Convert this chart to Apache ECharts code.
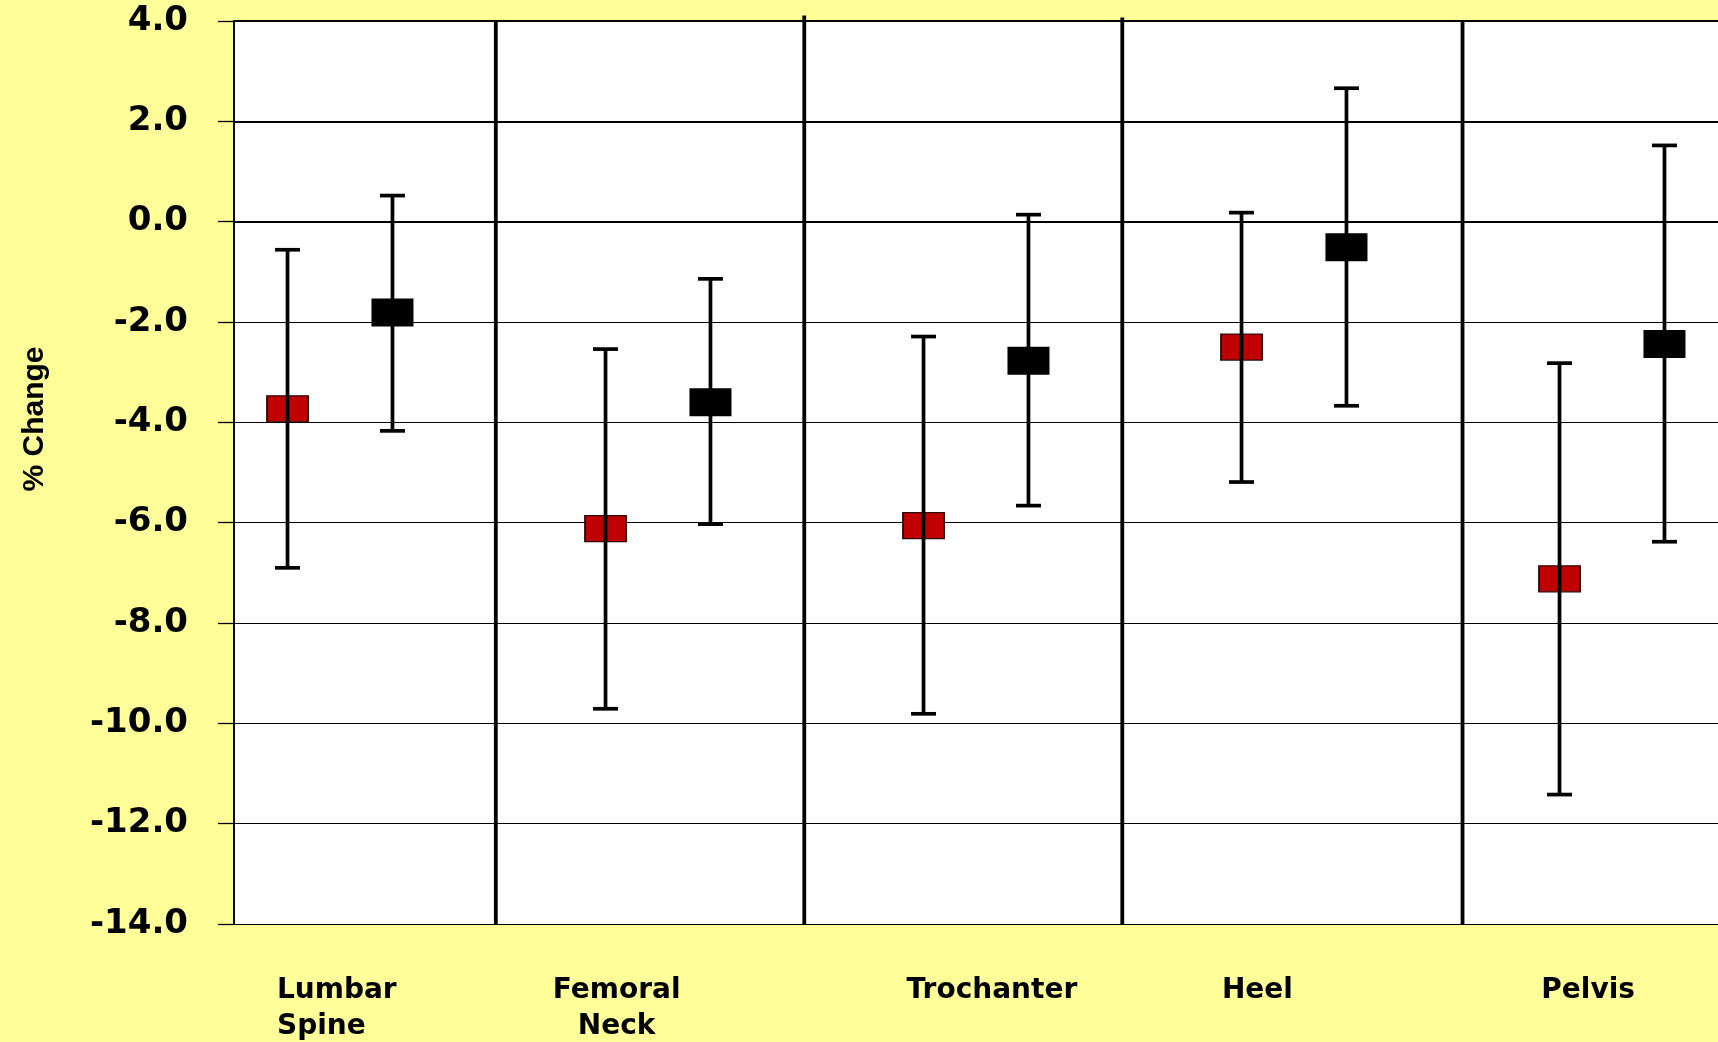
<!DOCTYPE html>
<html>
<head>
<meta charset="utf-8">
<script src="https://cdn.jsdelivr.net/npm/echarts@6/dist/echarts.min.js"></script>
<style>
  html, body { margin: 0; padding: 0; background: #FFFF99; }
  #chart { width: 1718px; height: 1042px; }
</style>
</head>
<body>
<div id="chart"></div>
<script>
// Skeletal sites along the x axis
const sites = ['Lumbar\nSpine', 'Femoral\nNeck', 'Trochanter', 'Heel', 'Pelvis'];

// Red group: mean % change with lower / upper interval limits
const redMean = [-3.73, -6.12, -6.06, -2.50, -7.12];
const redLow  = [-6.90, -9.71, -9.81, -5.19, -11.42];
const redHigh = [-0.56, -2.54, -2.29, 0.18, -2.82];

// Black group: mean % change with lower / upper interval limits
const blackMean = [-1.81, -3.60, -2.77, -0.51, -2.44];
const blackLow  = [-4.17, -6.03, -5.66, -3.67, -6.38];
const blackHigh = [0.52, -1.14, 0.14, 2.66, 1.52];

// Y axis ticks (% change)
const yTicks = [-14, -12, -10, -8, -6, -4, -2, 0, 2, 4];

// Vertical separators between sites (x in site units) and their top ends
const dividerX = [0.49, 1.46, 2.46, 3.53];
const dividerTop = [4.0, 4.11, 4.07, 4.0];

// Layout helpers
const PAIR_OFFSET = 0.165;                       // half distance between the two marks of a site
const LABEL_SHIFT = [-0.01, -0.13, 0.05, -0.115, -0.075];
const FONT_AXIS = '"DejaVu Sans", Verdana, sans-serif';

function buildPoints(mean, low, high, side) {
  return mean.map((m, i) => [i + side * PAIR_OFFSET, m, low[i], high[i]]);
}
const redPts = buildPoints(redMean, redLow, redHigh, -1);
const blackPts = buildPoints(blackMean, blackLow, blackHigh, 1);

function renderErrorBar(params, api) {
  const x = api.value(0);
  const top = api.coord([x, api.value(3)]);
  const bot = api.coord([x, api.value(2)]);
  const half = 12.5;
  const style = { stroke: '#000', lineWidth: 3.7 };
  return {
    type: 'group',
    children: [
      { type: 'line', shape: { x1: top[0], y1: top[1], x2: bot[0], y2: bot[1] }, style },
      { type: 'line', shape: { x1: top[0] - half, y1: top[1], x2: top[0] + half, y2: top[1] }, style },
      { type: 'line', shape: { x1: bot[0] - half, y1: bot[1], x2: bot[0] + half, y2: bot[1] }, style }
    ]
  };
}

function renderDivider(params, api) {
  const x = api.value(0);
  const a = api.coord([x, api.value(1)]);
  const b = api.coord([x, api.value(2)]);
  return {
    type: 'line',
    shape: { x1: a[0], y1: a[1], x2: b[0], y2: b[1] },
    style: { stroke: '#000', lineWidth: 3.8 }
  };
}

const chart = echarts.init(document.getElementById('chart'), null, { renderer: 'canvas' });

const labelFont = { fontFamily: FONT_AXIS, fontWeight: 'bold', fontSize: 28, lineHeight: 36, color: '#000' };

chart.setOption({
  backgroundColor: '#FFFF99',
  animation: false,
  grid: {
    left: 234, right: 0, top: 21, bottom: 118,
    outerBoundsMode: 'none',
    show: true, backgroundColor: '#FFFFFF', borderWidth: 0
  },
  graphic: [{
    type: 'text',
    x: 35, y: 419,
    rotation: Math.PI / 2,
    style: {
      text: '% Change',
      fill: '#000',
      font: 'bold 30px "Liberation Sans", Arial, sans-serif',
      align: 'center', verticalAlign: 'middle',
      textAlign: 'center', textVerticalAlign: 'middle'
    }
  }],
  xAxis: {
    type: 'value',
    min: -1 / 3,
    max: 13 / 3,
    axisLine: { show: true, onZero: false, lineStyle: { color: '#000', width: 1.2 } },
    axisTick: { show: false },
    splitLine: { show: false },
    axisLabel: {
      customValues: sites.map((_, i) => i + LABEL_SHIFT[i]),
      formatter: function (v) {
        const i = Math.round(v);
        const lines = sites[i].split('\n');
        if (i === 0) return lines.map(s => '{l|' + s + '}').join('\n');
        return sites[i];
      },
      margin: 49,
      ...labelFont,
      rich: { l: { ...labelFont, align: 'left' } }
    }
  },
  yAxis: {
    type: 'value',
    min: yTicks[0],
    max: yTicks[yTicks.length - 1],
    interval: 2,
    axisLine: { show: true, onZero: false, lineStyle: { color: '#000', width: 2 } },
    axisTick: { show: true, length: 16, lineStyle: { color: '#000', width: 1.3 } },
    splitLine: { show: true, lineStyle: { color: '#000', width: 1.1 } },
    axisLabel: {
      margin: 46,
      formatter: v => v.toFixed(1),
      fontFamily: FONT_AXIS,
      fontWeight: 'bold',
      fontSize: 34,
      color: '#000'
    }
  },
  series: [
    {
      name: 'Separators',
      type: 'custom',
      renderItem: renderDivider,
      data: dividerX.map((x, i) => [x, yTicks[0], dividerTop[i]]),
      encode: { x: 0, y: [1, 2] },
      clip: false,
      silent: true,
      z: 3,
      markLine: {
        silent: true,
        symbol: 'none',
        label: { show: false },
        lineStyle: { color: '#000', width: 2, type: 'solid' },
        data: [{ yAxis: 0 }, { yAxis: 2 }, { yAxis: 4 }]
      }
    },
    {
      name: 'Red',
      type: 'scatter',
      symbol: 'rect',
      symbolSize: [41, 26],
      itemStyle: { color: '#C00000', borderColor: '#2B0A0A', borderWidth: 1.5, opacity: 1 },
      data: redPts.map(p => [p[0], p[1]]),
      z: 4
    },
    {
      name: 'Black',
      type: 'scatter',
      symbol: 'rect',
      symbolSize: [42, 28],
      itemStyle: { color: '#000000', opacity: 1 },
      data: blackPts.map(p => [p[0], p[1]]),
      z: 4
    },
    {
      name: 'Red interval',
      type: 'custom',
      renderItem: renderErrorBar,
      data: redPts,
      encode: { x: 0, y: [1, 2, 3] },
      z: 5
    },
    {
      name: 'Black interval',
      type: 'custom',
      renderItem: renderErrorBar,
      data: blackPts,
      encode: { x: 0, y: [1, 2, 3] },
      z: 5
    }
  ]
});
</script>
</body>
</html>
